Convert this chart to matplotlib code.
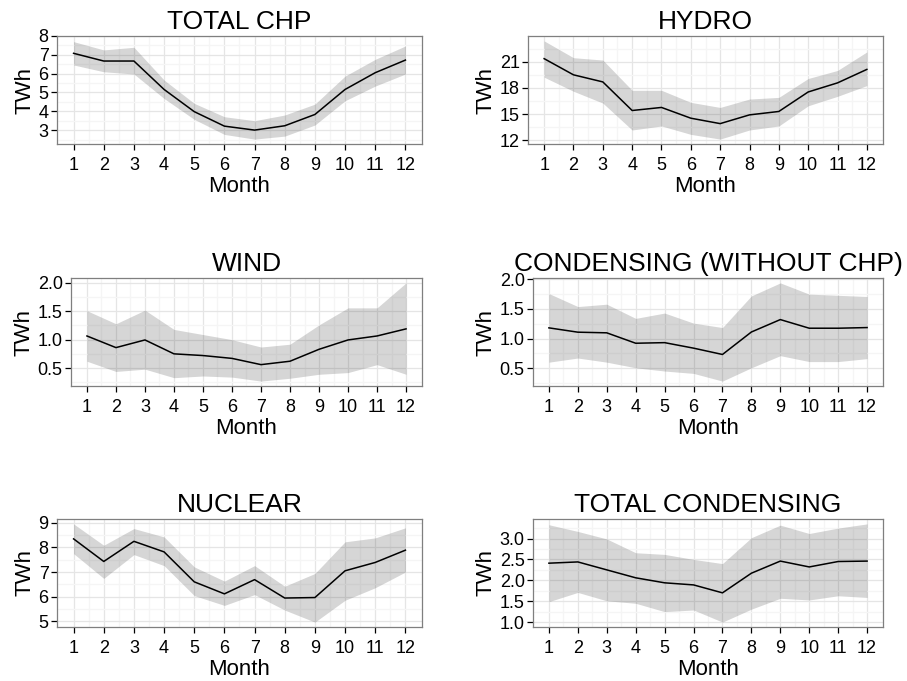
import matplotlib
matplotlib.use("Agg")
import matplotlib.pyplot as plt
import numpy as np

plt.rcParams["font.family"] = ["Liberation Sans", "DejaVu Sans"]

MONTHS = list(range(1, 13))

TITLES = ["TOTAL CHP", "HYDRO", "WIND", "CONDENSING (WITHOUT CHP)", "NUCLEAR", "TOTAL CONDENSING"]

chp_mean = [7.08, 6.67, 6.67, 5.16, 3.98, 3.21, 3.00, 3.23, 3.83, 5.16, 6.05, 6.72]
chp_low = [6.46, 6.10, 5.98, 4.68, 3.57, 2.77, 2.52, 2.68, 3.27, 4.56, 5.34, 5.98]
chp_high = [7.70, 7.26, 7.40, 5.66, 4.42, 3.71, 3.50, 3.80, 4.38, 5.87, 6.76, 7.47]

hydro_mean = [21.35, 19.50, 18.69, 15.42, 15.77, 14.54, 13.92, 14.92, 15.31, 17.54, 18.58, 20.12]
hydro_low = [19.23, 17.62, 16.27, 13.19, 13.65, 12.69, 12.15, 13.19, 13.65, 15.96, 17.04, 18.27]
hydro_high = [23.38, 21.46, 21.19, 17.73, 17.73, 16.35, 15.77, 16.73, 16.92, 19.08, 20.00, 22.12]

wind_mean = [1.065, 0.86, 0.995, 0.75, 0.72, 0.67, 0.56, 0.62, 0.83, 0.995, 1.065, 1.19]
wind_low = [0.62, 0.44, 0.48, 0.33, 0.36, 0.34, 0.27, 0.32, 0.39, 0.42, 0.56, 0.39]
wind_high = [1.51, 1.28, 1.52, 1.18, 1.09, 1.00, 0.87, 0.92, 1.26, 1.56, 1.56, 2.00]

cond_mean = [1.18, 1.107, 1.096, 0.92, 0.93, 0.837, 0.73, 1.11, 1.32, 1.174, 1.174, 1.185]
cond_low = [0.60, 0.67, 0.60, 0.505, 0.45, 0.41, 0.28, 0.505, 0.71, 0.61, 0.61, 0.66]
cond_high = [1.76, 1.54, 1.58, 1.34, 1.43, 1.26, 1.185, 1.72, 1.94, 1.75, 1.73, 1.71]

nuc_mean = [8.35, 7.43, 8.25, 7.82, 6.60, 6.11, 6.69, 5.94, 5.96, 7.05, 7.39, 7.89]
nuc_low = [7.75, 6.74, 7.71, 7.26, 6.04, 5.64, 6.08, 5.45, 4.96, 5.85, 6.36, 7.00]
nuc_high = [8.96, 8.09, 8.77, 8.43, 7.21, 6.63, 7.26, 6.42, 6.94, 8.23, 8.39, 8.80]

tot_mean = [2.41, 2.44, 2.25, 2.06, 1.94, 1.89, 1.70, 2.17, 2.46, 2.32, 2.45, 2.46]
tot_low = [1.49, 1.71, 1.51, 1.45, 1.25, 1.29, 1.00, 1.31, 1.57, 1.53, 1.63, 1.59]
tot_high = [3.33, 3.17, 2.99, 2.66, 2.62, 2.50, 2.40, 3.02, 3.32, 3.12, 3.25, 3.35]

Y_TICKS = [
    [3, 4, 5, 6, 7, 8],
    [12, 15, 18, 21],
    [0.5, 1.0, 1.5, 2.0],
    [0.5, 1.0, 1.5, 2.0],
    [5, 6, 7, 8, 9],
    [1.0, 1.5, 2.0, 2.5, 3.0],
]
Y_FMT = ["{:.0f}", "{:.0f}", "{:.1f}", "{:.1f}", "{:.0f}", "{:.1f}"]

SERIES = [
    (chp_mean, chp_low, chp_high),
    (hydro_mean, hydro_low, hydro_high),
    (wind_mean, wind_low, wind_high),
    (cond_mean, cond_low, cond_high),
    (nuc_mean, nuc_low, nuc_high),
    (tot_mean, tot_low, tot_high),
]

# panel rectangles in pixels (x0, x1, y_top, y_bottom)
PANELS_PX = [
    (57, 422, 36, 144), (528, 883, 36, 144),
    (71, 422, 278, 386), (533, 883, 278, 386),
    (57, 422, 519, 627), (533, 883, 519, 627),
]

W, H = 907, 681


def minor_breaks(major, lo, hi):
    step = major[1] - major[0]
    cand = [m - step / 2 for m in major] + [major[-1] + step / 2]
    return [c for c in cand if lo <= c <= hi]


def draw_panel(ax, title, mean, low, high, yticks, fmt):
    x = np.array(MONTHS)
    ax.fill_between(x, low, high, color="#333333", alpha=0.2, linewidth=0, zorder=2)
    ax.plot(x, mean, color="black", linewidth=1.1, zorder=3)

    ax.set_xlim(0.45, 12.55)
    ymin, ymax = min(low), max(high)
    pad = (ymax - ymin) * 0.05
    ax.set_ylim(ymin - pad, ymax + pad)

    ax.set_xticks(MONTHS)
    ax.set_xticks([m + 0.5 for m in MONTHS[:-1]], minor=True)
    ax.set_yticks(yticks)
    ax.set_yticklabels([fmt.format(v) for v in yticks])
    ax.set_yticks(minor_breaks(yticks, ymin - pad, ymax + pad), minor=True)

    ax.grid(True, which="major", color="#E5E5E5", linewidth=0.9, zorder=0)
    ax.grid(True, which="minor", color="#F5F5F5", linewidth=0.9, zorder=0)
    ax.set_axisbelow(True)

    ax.tick_params(which="minor", length=0)
    ax.tick_params(axis="x", which="major", length=4.5, width=0.9, color="black",
                   labelsize=13, pad=5, labelcolor="black")
    ax.tick_params(axis="y", which="major", length=4.5, width=0.9, color="black",
                   labelsize=13, pad=1.5, labelcolor="black")

    for spine in ax.spines.values():
        spine.set_color("#7F7F7F")
        spine.set_linewidth(0.9)

    ax.set_xlabel("Month", fontsize=16, labelpad=1)
    ax.set_ylabel("TWh", fontsize=16, labelpad=2)
    ax.set_title(title, fontsize=19, pad=5)


def main():
    fig = plt.figure(figsize=(W / 100, H / 100), dpi=100)
    for (x0, x1, yt, yb), title, (mean, low, high), yticks, fmt in zip(
            PANELS_PX, TITLES, SERIES, Y_TICKS, Y_FMT):
        ax = fig.add_axes([x0 / W, 1 - yb / H, (x1 - x0) / W, (yb - yt) / H])
        draw_panel(ax, title, mean, low, high, yticks, fmt)

    fig.savefig("out.png", dpi=100)
    plt.close(fig)


if __name__ == "__main__":
    main()
